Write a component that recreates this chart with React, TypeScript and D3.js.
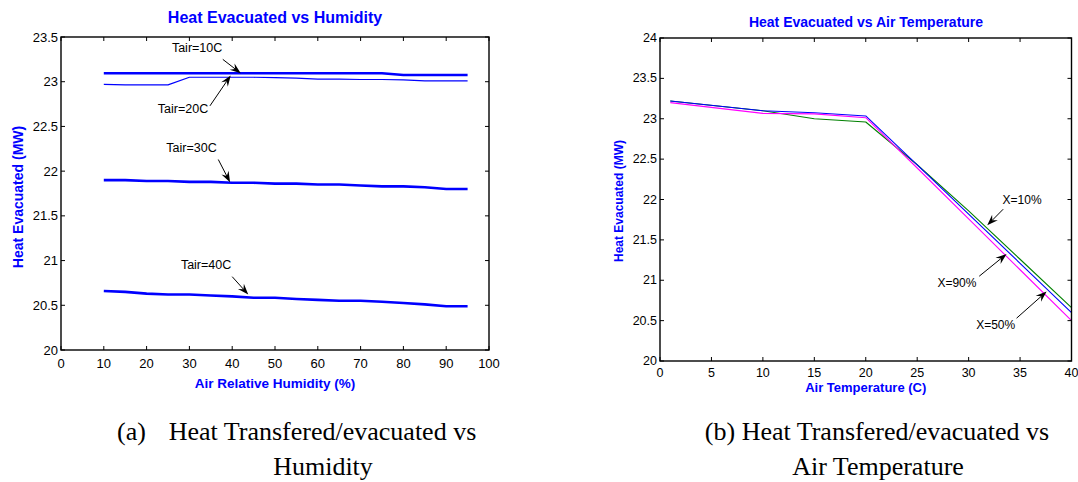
import React from 'react';
import * as d3 from 'd3';

// ---------- Data: panel (a) Heat evacuated vs humidity ----------
const humidity = [10, 15, 20, 25, 30, 35, 40, 45, 50, 55, 60, 65, 70, 75, 80, 85, 90, 95];
const tair10C = [23.095, 23.095, 23.095, 23.095, 23.095, 23.095, 23.095, 23.095, 23.095, 23.095, 23.095, 23.095, 23.095, 23.095, 23.075, 23.075, 23.075, 23.075];
const tair20C = [22.97, 22.965, 22.965, 22.965, 23.05, 23.05, 23.05, 23.05, 23.045, 23.04, 23.03, 23.03, 23.025, 23.025, 23.02, 23.01, 23.01, 23.01];
const tair30C = [21.9, 21.9, 21.89, 21.89, 21.88, 21.88, 21.87, 21.87, 21.86, 21.86, 21.85, 21.85, 21.84, 21.83, 21.83, 21.82, 21.8, 21.8];
const tair40C = [20.66, 20.65, 20.63, 20.62, 20.62, 20.61, 20.6, 20.585, 20.585, 20.57, 20.56, 20.55, 20.55, 20.54, 20.525, 20.51, 20.49, 20.49];
const humidityTicks = [0, 10, 20, 30, 40, 50, 60, 70, 80, 90, 100];
const heatTicksA = [20, 20.5, 21, 21.5, 22, 22.5, 23, 23.5];

// ---------- Data: panel (b) Heat evacuated vs air temperature ----------
const airTemp = [1, 10, 15, 20, 25, 30, 35, 40];
const hum10 = [23.22, 23.1, 23.0, 22.96, 22.43, 21.86, 21.26, 20.66];
const hum50 = [23.22, 23.1, 23.075, 23.035, 22.43, 21.82, 21.21, 20.6];
const hum90 = [23.2, 23.067, 23.06, 23.013, 22.39, 21.76, 21.13, 20.5];
const tempTicks = [0, 5, 10, 15, 20, 25, 30, 35, 40];
const heatTicksB = [20, 20.5, 21, 21.5, 22, 22.5, 23, 23.5, 24];

// annotations: [label, textX, textY, tailX, tailY, tipX, tipY] in data units
const annotA: [string, number, number, number, number, number, number][] = [
  ['Tair=10C', 31.8, 23.38, 37.8, 23.25, 42.0, 23.094],
  ['Tair=20C', 28.5, 22.70, 34.8, 22.73, 39.65, 23.07],
  ['Tair=30C', 30.5, 22.26, 36.75, 22.13, 39.5, 21.875],
  ['Tair=40C', 33.9, 20.95, 40.0, 20.82, 43.75, 20.62],
];
const annotB: [string, number, number, number, number, number, number][] = [
  ['X=10%', 35.2, 22.0, 33.36, 21.88, 31.81, 21.68],
  ['X=90%', 28.86, 20.96, 31.03, 21.05, 33.69, 21.325],
  ['X=50%', 32.63, 20.446, 34.66, 20.53, 37.58, 20.86],
];

const SANS = 'Liberation Sans, Arial, Helvetica, sans-serif';
const SERIF = 'Liberation Serif, Times New Roman, serif';

type Series = { x: number[]; y: number[]; color: string; width: number };
type PanelProps = {
  box: { left: number; right: number; top: number; bottom: number };
  xDomain: [number, number];
  yDomain: [number, number];
  xTicks: number[];
  yTicks: number[];
  series: Series[];
  annots: [string, number, number, number, number, number, number][];
  annotSize: number;
  title: string; titleX: number; titleY: number; titleSize: number;
  xLabel: string; xLabelY: number; xLabelSize: number;
  yLabel: string; yLabelX: number; yLabelY: number; yLabelSize: number;
  tickSize: number; xTickY: number;
};

function Arrow({ x1, y1, x2, y2 }: { x1: number; y1: number; x2: number; y2: number }) {
  const dx = x2 - x1, dy = y2 - y1;
  const n = Math.hypot(dx, dy) || 1;
  const ux = dx / n, uy = dy / n;
  const len = 11, half = 4, notch = 0.65;
  const bx = x2 - ux * len, by = y2 - uy * len;
  const nx = -uy, ny = ux;
  const mx = x2 - ux * len * notch, my = y2 - uy * len * notch;
  const pts = [
    [x2, y2], [bx + nx * half, by + ny * half], [mx, my], [bx - nx * half, by - ny * half],
  ].map((p) => p.join(',')).join(' ');
  return (
    <g>
      <line x1={x1} y1={y1} x2={mx} y2={my} stroke="#000" strokeWidth={1} />
      <polygon points={pts} fill="#000" />
    </g>
  );
}

function Panel(p: PanelProps) {
  const { box } = p;
  const x = d3.scaleLinear().domain(p.xDomain).range([box.left, box.right]);
  const y = d3.scaleLinear().domain(p.yDomain).range([box.bottom, box.top]);
  const line = d3.line<[number, number]>().x((d) => x(d[0])).y((d) => y(d[1]));
  const tl = 4;
  return (
    <g>
      <text x={p.titleX} y={p.titleY} textAnchor="middle" fontFamily={SANS} fontWeight="bold"
        fontSize={p.titleSize} fill="#0000FF">{p.title}</text>
      <rect x={box.left} y={box.top} width={box.right - box.left} height={box.bottom - box.top}
        fill="#fff" stroke="none" />
      {p.series.map((s, i) => (
        <path key={i} d={line(s.x.map((v, j) => [v, s.y[j]] as [number, number])) || ''}
          fill="none" stroke={s.color} strokeWidth={s.width} strokeLinejoin="round" />
      ))}
      {p.annots.map((a, i) => (
        <g key={i}>
          <Arrow x1={x(a[3])} y1={y(a[4])} x2={x(a[5])} y2={y(a[6])} />
          <text x={x(a[1])} y={y(a[2])} textAnchor="middle" dominantBaseline="central"
            fontFamily={SANS} fontSize={p.annotSize} fill="#000">{a[0]}</text>
        </g>
      ))}
      <rect x={box.left} y={box.top} width={box.right - box.left} height={box.bottom - box.top}
        fill="none" stroke="#000" strokeWidth={1.4} />
      {p.xTicks.map((t) => (
        <g key={'x' + t}>
          <line x1={x(t)} x2={x(t)} y1={box.bottom} y2={box.bottom - tl} stroke="#000" strokeWidth={1} />
          <line x1={x(t)} x2={x(t)} y1={box.top} y2={box.top + tl} stroke="#000" strokeWidth={1} />
          <text x={x(t)} y={p.xTickY} textAnchor="middle" fontFamily={SANS} fontSize={p.tickSize}
            fill="#000">{String(t)}</text>
        </g>
      ))}
      {p.yTicks.map((t) => (
        <g key={'y' + t}>
          <line x1={box.left} x2={box.left + tl} y1={y(t)} y2={y(t)} stroke="#000" strokeWidth={1} />
          <line x1={box.right} x2={box.right - tl} y1={y(t)} y2={y(t)} stroke="#000" strokeWidth={1} />
          <text x={box.left - 3} y={y(t)} textAnchor="end" dominantBaseline="central"
            fontFamily={SANS} fontSize={p.tickSize} fill="#000">{String(t)}</text>
        </g>
      ))}
      <text x={(box.left + box.right) / 2} y={p.xLabelY} textAnchor="middle" fontFamily={SANS}
        fontWeight="bold" fontSize={p.xLabelSize} fill="#0000FF">{p.xLabel}</text>
      <text transform={`translate(${p.yLabelX},${p.yLabelY}) rotate(-90)`} textAnchor="middle"
        dominantBaseline="central" fontFamily={SANS} fontWeight="bold" fontSize={p.yLabelSize}
        fill="#0000FF">{p.yLabel}</text>
    </g>
  );
}

export default function App() {
  return (
    <svg width={1078} height={482} viewBox="0 0 1078 482"
      style={{ position: 'absolute', left: 0, top: 0, background: '#fff' }}>
      <rect x={0} y={0} width={1078} height={482} fill="#fff" />
      <Panel
        box={{ left: 61, right: 489, top: 37, bottom: 350 }}
        xDomain={[0, 100]} yDomain={[20, 23.5]}
        xTicks={humidityTicks} yTicks={heatTicksA}
        series={[
          { x: humidity, y: tair10C, color: '#0000FF', width: 2.6 },
          { x: humidity, y: tair20C, color: '#0000FF', width: 1.2 },
          { x: humidity, y: tair30C, color: '#0000FF', width: 2.6 },
          { x: humidity, y: tair40C, color: '#0000FF', width: 2.6 },
        ]}
        annots={annotA} annotSize={12.5}
        title="Heat Evacuated vs Humidity" titleX={275} titleY={23} titleSize={16}
        xLabel="Air Relative Humidity (%)" xLabelY={388} xLabelSize={13.5}
        yLabel="Heat Evacuated (MW)" yLabelX={18} yLabelY={197} yLabelSize={14}
        tickSize={13} xTickY={368}
      />
      <Panel
        box={{ left: 660, right: 1071.5, top: 38, bottom: 361 }}
        xDomain={[0, 40]} yDomain={[20, 24]}
        xTicks={tempTicks} yTicks={heatTicksB}
        series={[
          { x: airTemp, y: hum10, color: '#008000', width: 1.1 },
          { x: airTemp, y: hum50, color: '#0000FF', width: 1.1 },
          { x: airTemp, y: hum90, color: '#FF00FF', width: 1.1 },
        ]}
        annots={annotB} annotSize={12}
        title="Heat Evacuated vs Air Temperature" titleX={866} titleY={27} titleSize={14}
        xLabel="Air Temperature (C)" xLabelY={392} xLabelSize={13}
        yLabel="Heat Evacuated (MW)" yLabelX={619} yLabelY={201} yLabelSize={12}
        tickSize={12.5} xTickY={377}
      />
      <g fontFamily={SERIF} fontSize={26} fill="#000">
        <text x={117} y={440}>(a)</text>
        <text x={322.5} y={440} textAnchor="middle">Heat Transfered/evacuated vs</text>
        <text x={323} y={475} textAnchor="middle">Humidity</text>
        <text x={877} y={440} textAnchor="middle">(b) Heat Transfered/evacuated vs</text>
        <text x={878} y={475} textAnchor="middle">Air Temperature</text>
      </g>
    </svg>
  );
}
